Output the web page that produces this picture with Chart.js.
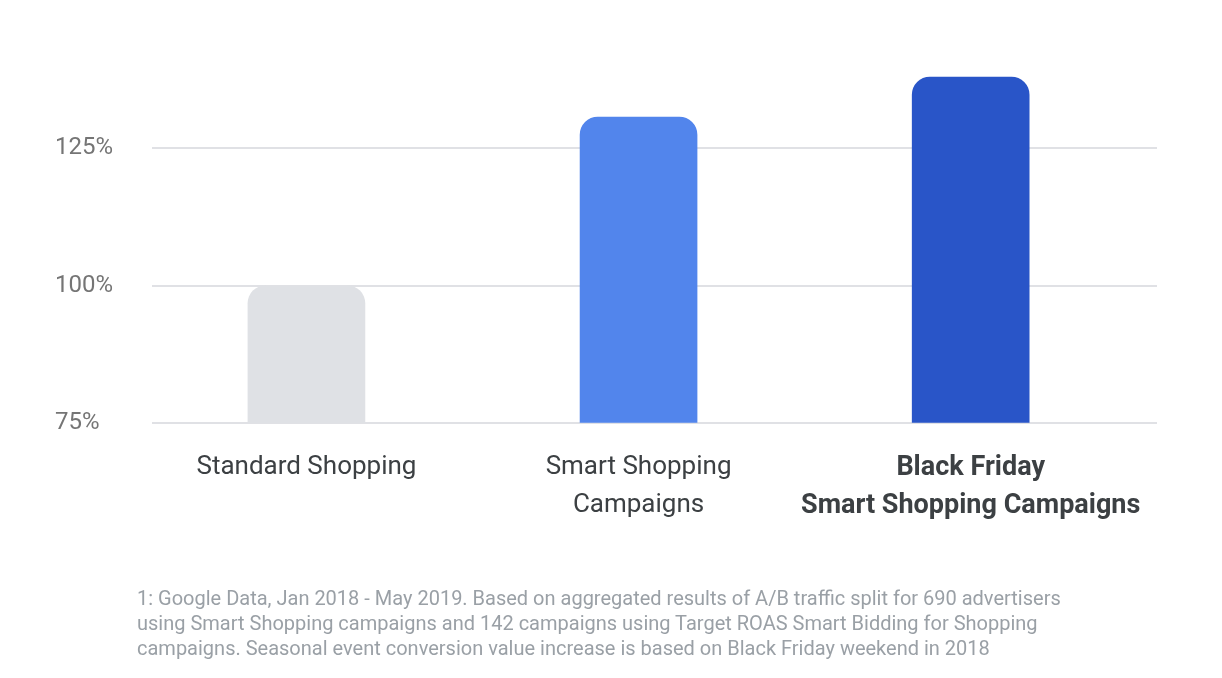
<!DOCTYPE html>
<html>
<head>
<meta charset="utf-8">
<script src="https://cdn.jsdelivr.net/npm/chart.js@4/dist/chart.umd.min.js"></script>
<style>
  html, body { margin: 0; padding: 0; background: #ffffff; }
  #wrap { position: relative; width: 1222px; height: 678px; overflow: hidden; }
  #c { position: absolute; left: 0; top: 0; }
  #note { position: absolute; left: 137px; top: 586px; width: 1050px;
          font-family: Roboto, "Noto Sans", sans-serif; font-size: 20px; line-height: 25px;
          color: #9aa0a6; white-space: nowrap; }
</style>
</head>
<body>
<div id="wrap">
  <canvas id="c" width="1222" height="678"></canvas>
  <div id="note">1: Google Data, Jan 2018 - May 2019. Based on aggregated results of A/B traffic split for 690 advertisers<br>using Smart Shopping campaigns and 142 campaigns using Target ROAS Smart Bidding for Shopping<br>campaigns. Seasonal event conversion value increase is based on Black Friday weekend in 2018</div>
</div>
<script>
const categories = [
  ["Standard Shopping"],
  ["Smart Shopping", "Campaigns"],
  ["Black Friday", "Smart Shopping Campaigns"]
];
const values = [100, 130.7, 138];
const barColors = ["#dfe1e5", "#5285ec", "#2955c8"];
const yTicks = [75, 100, 125];

new Chart(document.getElementById('c'), {
  type: 'bar',
  data: {
    labels: categories,
    datasets: [{
      data: values,
      backgroundColor: barColors,
      barThickness: 117,
      borderRadius: { topLeft: 18, topRight: 18, bottomLeft: 0, bottomRight: 0 },
      borderSkipped: 'bottom'
    }]
  },
  options: {
    responsive: false,
    animation: false,
    layout: { padding: { left: 55, right: 65, top: 66, bottom: 127 } },
    plugins: { legend: { display: false }, tooltip: { enabled: false } },
    scales: {
      x: {
        offset: true,
        afterBuildTicks: (s) => { s._startValue = -0.465; s._valueRange = 3.026; },
        grid: { display: false, drawTicks: false },
        border: { display: false },
        ticks: {
          padding: 26,
          color: '#3c4043',
          maxRotation: 0,
          autoSkip: false,
          font: (ctx) => ({ family: 'Roboto', size: ctx.index === 2 ? 27 : 26, lineHeight: ctx.index === 2 ? 1.41 : 1.46,
                            weight: ctx.index === 2 ? 'bold' : 'normal' })
        }
      },
      y: {
        min: 75,
        max: 140,
        afterBuildTicks: (s) => { s.ticks = yTicks.map(v => ({ value: v })); },
        afterFit: (s) => { s.width = 97; },
        grid: { color: '#e0e1e5', lineWidth: 2, drawTicks: false },
        border: { display: false },
        ticks: {
          crossAlign: 'far',
          color: '#757575',
          font: { family: 'Roboto', size: 24 },
          callback: (v) => v + '%'
        }
      }
    }
  }
});
</script>
</body>
</html>
